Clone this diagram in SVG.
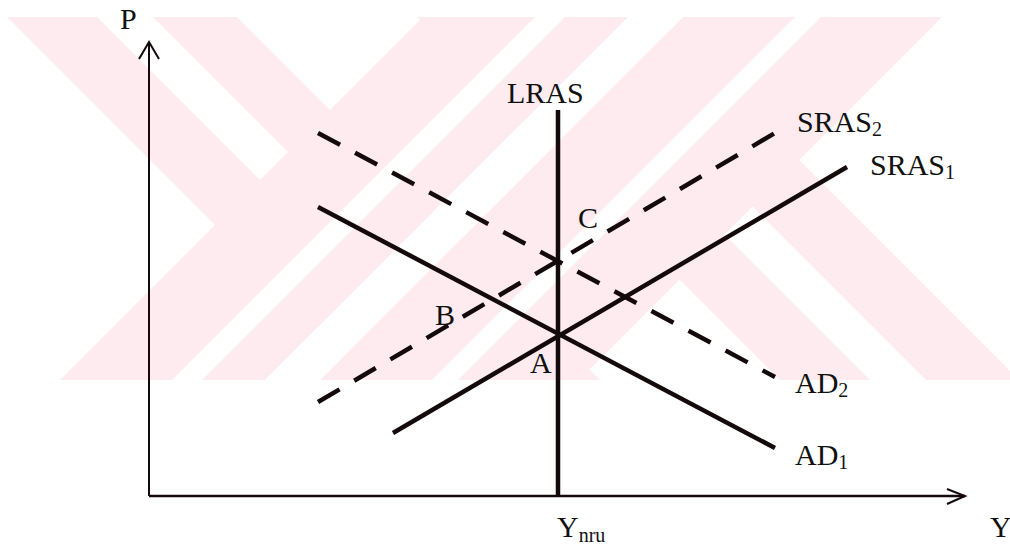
<svg xmlns="http://www.w3.org/2000/svg" width="1010" height="549" viewBox="0 0 1010 549">
<style>
.t{font-family:"Liberation Serif","Times New Roman",serif;font-size:30px;fill:#111}
.s{font-size:20px}
.wm{fill:#fdebef}
.wg{fill:#ffffff}
.thick{stroke:#140a0c;stroke-width:4.5;fill:none;stroke-linecap:butt}
.dash{stroke-dasharray:25 17}
.axis{stroke:#140a0c;stroke-width:2;fill:none}
</style>
<defs>
<clipPath id="wmclip"><rect x="0" y="17" width="1010" height="363"/></clipPath>
</defs>
<g id="watermark" clip-path="url(#wmclip)">
<polygon class="wm" points="7,17 237,17 600,380 370,380"/>
<polygon class="wm" points="417,17 656,17 1019,380 780,380"/>
<polygon class="wm" points="423,17 628,17 265,380 60,380"/>
<polygon class="wm" points="683,17 942,17 579,380 320,380"/>
<polygon class="wg" points="97,17 153,17 288,152 260,180"/>
<polygon class="wg" points="752.5,206.5 724.5,234.5 870,380 926,380"/>
<polygon class="wg" points="535,17 565,17 202,380 172,380"/>
<polygon class="wg" points="628,17 683,17 320,380 265,380"/>
<polygon class="wg" points="795,17 821,17 458,380 432,380"/>
</g>
<g id="axes">
<line class="axis" x1="149" y1="496" x2="149" y2="42"/>
<polyline class="axis" points="139,59 149,42 159,59"/>
<line class="axis" x1="149" y1="496" x2="965" y2="496" style="stroke-width:2.5"/>
<polyline class="axis" points="947,489 965,496 947,504"/>
</g>
<g id="connectors">
<line id="LRAS" class="thick" x1="558" y1="110" x2="558" y2="497"/>
<line id="AD1" class="thick" x1="318" y1="207" x2="775" y2="448"/>
<line id="SRAS1" class="thick" x1="393" y1="433" x2="847" y2="167"/>
<line id="AD2" class="thick dash" x1="318" y1="133" x2="775" y2="377"/>
<line id="SRAS2" class="thick dash" x1="318" y1="402" x2="775" y2="133"/>
</g>
<g id="labels">
<text class="t" x="120" y="29">P</text>
<text class="t" x="507" y="103">LRAS</text>
<text class="t" x="797" y="132">SRAS<tspan class="s" dy="4">2</tspan></text>
<text class="t" x="870" y="175">SRAS<tspan class="s" dy="4">1</tspan></text>
<text class="t" x="578" y="228">C</text>
<text class="t" x="435" y="325">B</text>
<text class="t" x="530" y="373">A</text>
<text class="t" x="795" y="393">AD<tspan class="s" dy="4">2</tspan></text>
<text class="t" x="795" y="465">AD<tspan class="s" dy="4">1</tspan></text>
<text class="t" x="557" y="537">Y<tspan class="s" dy="5">nru</tspan></text>
<text class="t" x="990" y="537">Y</text>
</g>
</svg>
